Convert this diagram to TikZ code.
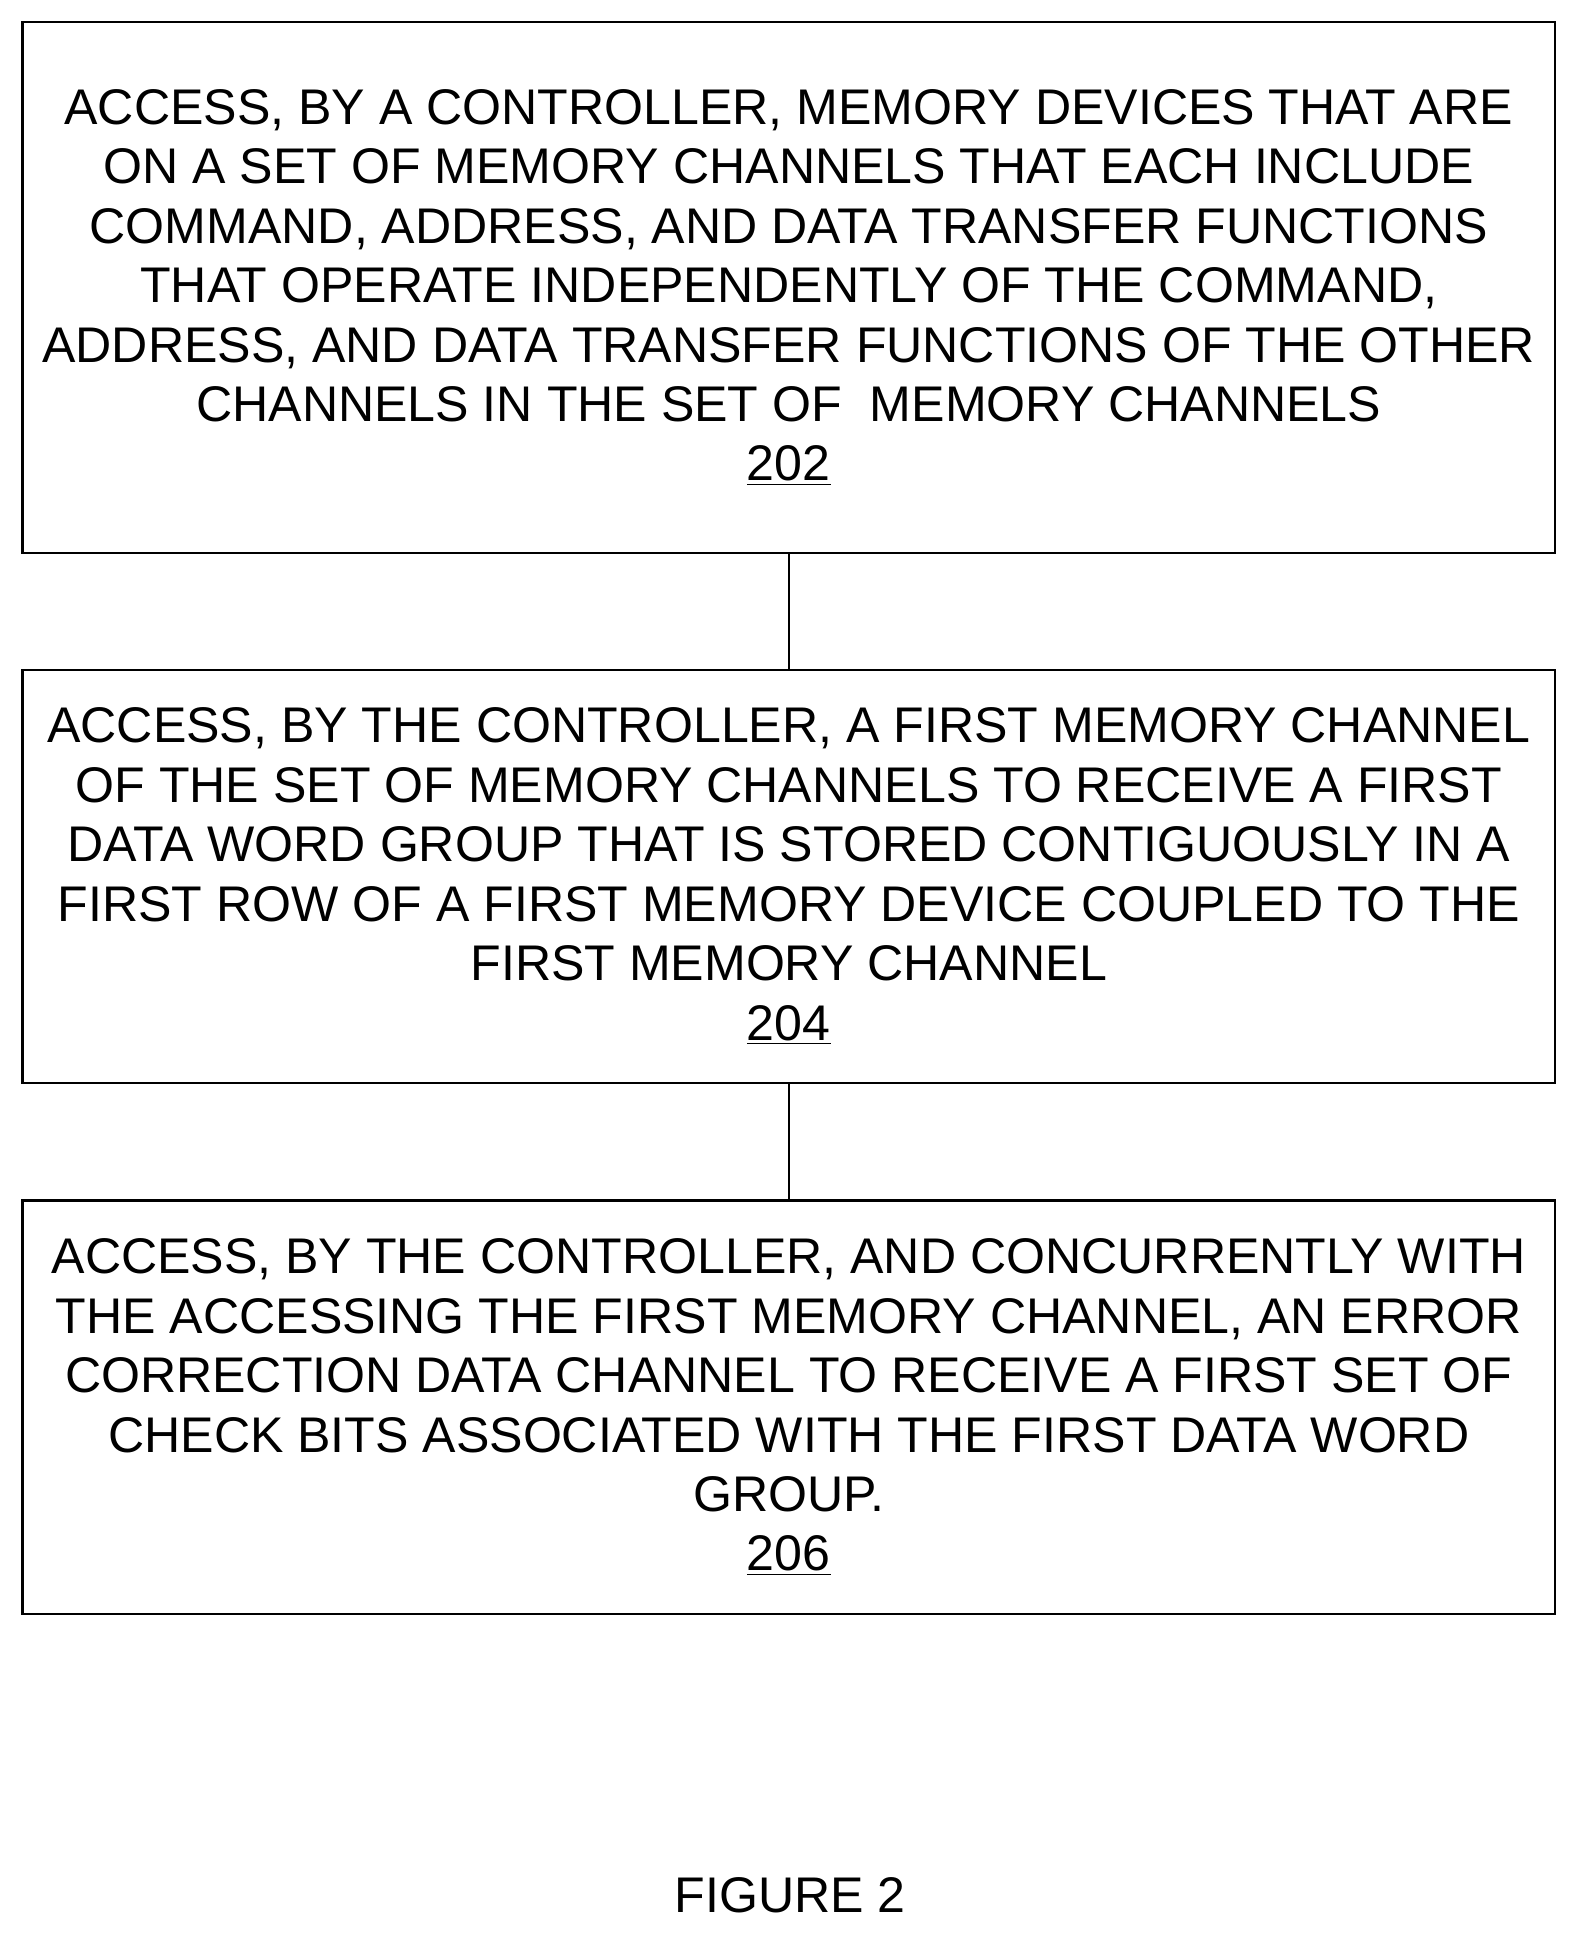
\documentclass[tikz,border=0pt]{standalone}
\usepackage{fontspec}
\setmainfont{Liberation Sans}
\usetikzlibrary{positioning}
\tikzset{
  stepbox/.style={draw, line width=1.1pt, minimum width=24.84cm, align=center,
    font=\fontsize{23.1}{27.4}\selectfont, inner sep=0pt},
  link/.style={line width=1.1pt}
}
\begin{document}
\begin{tikzpicture}[x=0.02cm,y=-0.02cm]
\useasboundingbox (0,0) rectangle (1280,1570);
\node[stepbox, minimum height=8.6cm] (s202) at (639,233) {ACCESS, BY A CONTROLLER, MEMORY DEVICES THAT ARE\\
ON A SET OF MEMORY CHANNELS THAT EACH INCLUDE\\
COMMAND, ADDRESS, AND DATA TRANSFER FUNCTIONS\\
THAT OPERATE INDEPENDENTLY OF THE COMMAND,\\
ADDRESS, AND DATA TRANSFER FUNCTIONS OF THE OTHER\\
CHANNELS IN THE SET OF \ MEMORY CHANNELS\\
\underline{202}};
\node[stepbox, minimum height=6.7cm] (s204) at (639,710) {ACCESS, BY THE CONTROLLER, A FIRST MEMORY CHANNEL\\
OF THE SET OF MEMORY CHANNELS TO RECEIVE A FIRST\\
DATA WORD GROUP THAT IS STORED CONTIGUOUSLY IN A\\
FIRST ROW OF A FIRST MEMORY DEVICE COUPLED TO THE\\
FIRST MEMORY CHANNEL\\
\underline{204}};
\node[stepbox, minimum height=6.7cm] (s206) at (639,1140) {ACCESS, BY THE CONTROLLER, AND CONCURRENTLY WITH\\
THE ACCESSING THE FIRST MEMORY CHANNEL, AN ERROR\\
CORRECTION DATA CHANNEL TO RECEIVE A FIRST SET OF\\
CHECK BITS ASSOCIATED WITH THE FIRST DATA WORD\\
GROUP.\\
\underline{206}};
\draw[link] (s202) -- (s204);
\draw[link] (s204) -- (s206);
\node[font=\fontsize{23.1}{26}\selectfont] (fig) at (640,1535) {FIGURE 2};
\end{tikzpicture}
\end{document}
